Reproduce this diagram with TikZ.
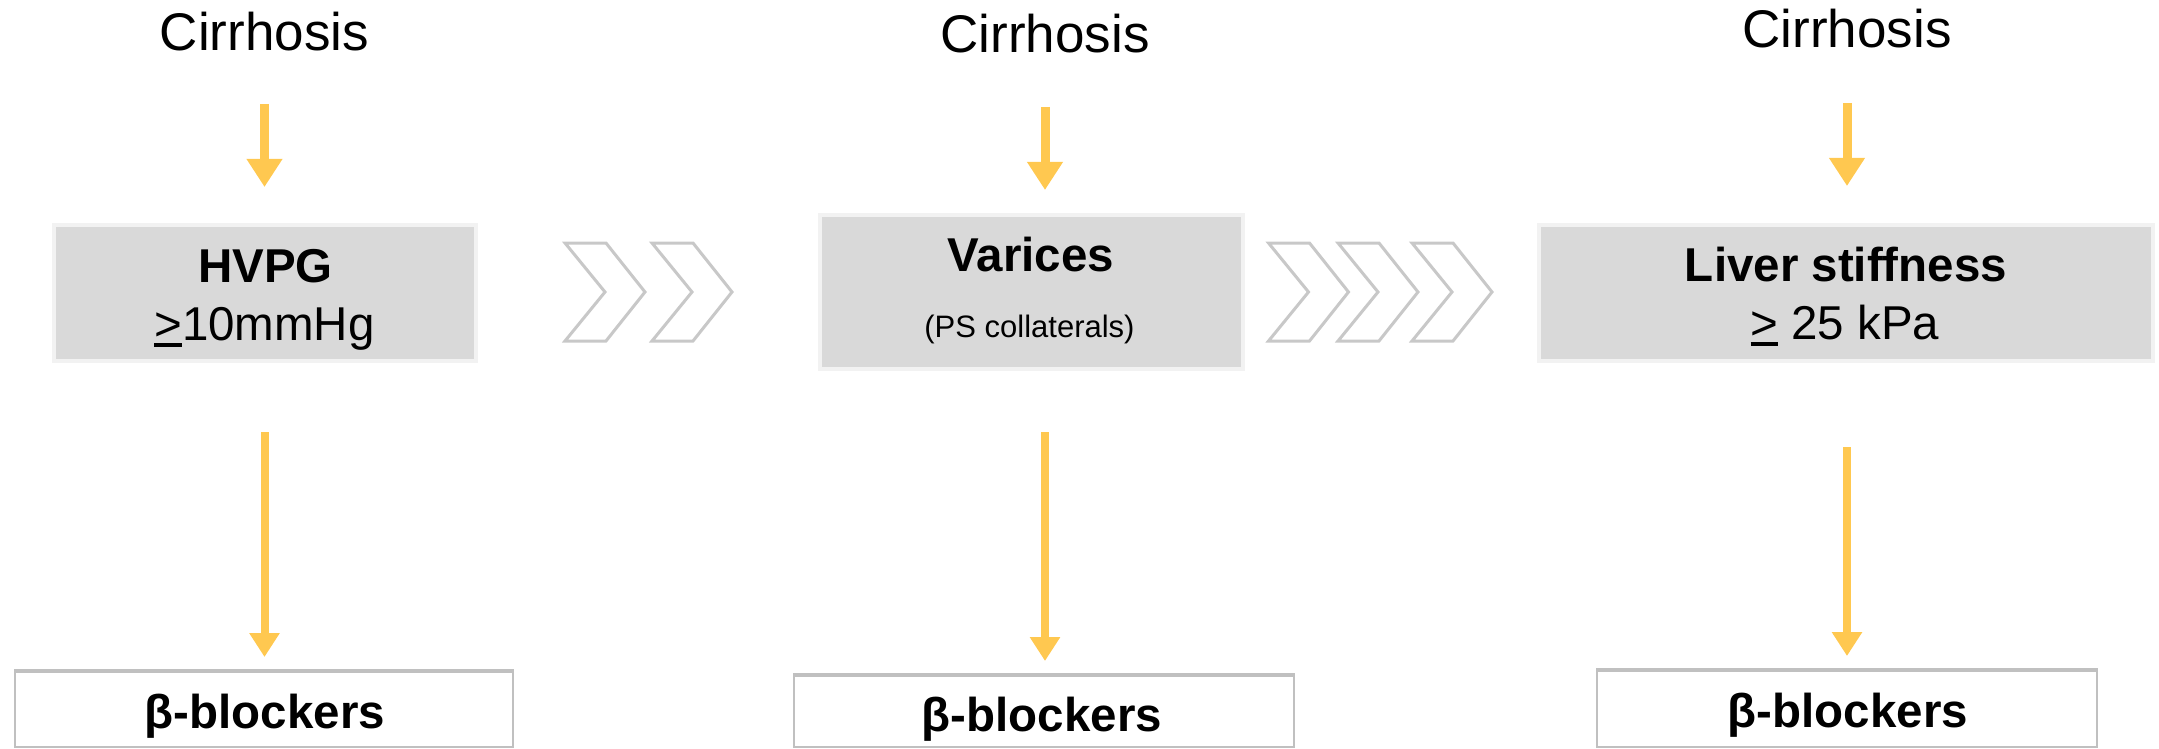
\documentclass[tikz,border=0pt]{standalone}
\usepackage{fontspec}
\setmainfont{Liberation Sans}
\usetikzlibrary{arrows.meta}
\definecolor{arrowyellow}{RGB}{255,200,80}
\definecolor{boxgray}{RGB}{217,217,217}
\definecolor{boxedge}{RGB}{242,242,242}
\definecolor{chevgray}{RGB}{200,200,200}
\definecolor{bbedge}{RGB}{192,192,192}
\newsavebox{\geubox}
\newcommand{\geu}[1]{\sbox{\geubox}{#1}\rlap{\rule[-0.14em]{\wd\geubox}{0.075em}}\usebox{\geubox}}
\begin{document}
\begin{tikzpicture}[x=0.5pt,y=-0.5pt,
 cirtxt/.style={font=\fontsize{26.5}{30}\selectfont, inner sep=0, anchor=base},
 bigtxt/.style={font=\fontsize{23.75}{28}\selectfont\bfseries, inner sep=0, anchor=base},
 midtxt/.style={font=\fontsize{23.75}{28}\selectfont, inner sep=0, anchor=base},
 smalltxt/.style={font=\fontsize{15.5}{18}\selectfont, inner sep=0, anchor=base},
 graybox/.style={draw=boxedge, line width=2pt, fill=boxgray, inner sep=0, outer sep=0},
 bbox/.style={draw=bbedge, line width=1.25pt, fill=white, inner sep=0, outer sep=0},
 bbtop/.style={draw=bbedge, line width=2pt},
 toparr/.style={color=arrowyellow, line width=4.5pt, -{Triangle[width=17pt,length=14pt]}},
 botarr/.style={color=arrowyellow, line width=4pt, -{Triangle[width=14.5pt,length=12pt]}},
 chevline/.style={draw=chevgray, line width=1.5pt, fill=white, line join=miter},
 chev/.pic={\path[chevline] (0,0) -- (41,0) -- (80,49) -- (41,98) -- (0,98) -- (40,49) -- cycle;}
]
\useasboundingbox (0,0) rectangle (2159,749);

% Cirrhosis labels
\node[cirtxt] (cir1) at (264.5,51) {Cirrhosis};
\node[cirtxt] (cir2) at (1045,53) {Cirrhosis};
\node[cirtxt] (cir3) at (1847,48) {Cirrhosis};

% gray boxes
\node[graybox, minimum width=211pt, minimum height=68pt] (box1) at (265,293) {};
\node[graybox, minimum width=211.5pt, minimum height=77pt] (box2) at (1031.5,292) {};
\node[graybox, minimum width=307pt, minimum height=68pt] (box3) at (1846,293) {};

\node[bigtxt] (hvpg) at (265.5,282) {HVPG};
\node[midtxt] (hvpgv) at (264.5,340) {\geu{>}10mmHg};
\node[bigtxt] (var) at (1031,271) {Varices};
\node[smalltxt] (ps) at (1029.5,337) {(PS collaterals)};
\node[bigtxt] (ls) at (1846,281) {Liver stiffness};
\node[midtxt] (lsv) at (1845,339) {\geu{>} 25 kPa};

% bottom boxes
\node[bbox, minimum width=249pt, minimum height=38.5pt] (bb1) at (264,708.5) {};
\node[bbox, minimum width=250pt, minimum height=36.5pt] (bb2) at (1044,710.5) {};
\node[bbox, minimum width=250pt, minimum height=39pt] (bb3) at (1847,708) {};
\draw[bbtop] ([yshift=-0.5pt]bb1.north west) -- ([yshift=-0.5pt]bb1.north east);
\draw[bbtop] ([yshift=-0.5pt]bb2.north west) -- ([yshift=-0.5pt]bb2.north east);
\draw[bbtop] ([yshift=-0.5pt]bb3.north west) -- ([yshift=-0.5pt]bb3.north east);
\node[bigtxt] (bt1) at (265,728) {β-blockers};
\node[bigtxt] (bt2) at (1042,731) {β-blockers};
\node[bigtxt] (bt3) at (1848,727) {β-blockers};

% arrows
\draw[toparr, shorten <=26pt, shorten >=19pt] (cir1.south) -- (cir1.south |- box1.north);
\draw[toparr, shorten <=26.5pt, shorten >=12.5pt] (cir2.south) -- (cir2.south |- box2.north);
\draw[toparr, shorten <=27pt, shorten >=19.5pt] (cir3.south) -- (cir3.south |- box3.north);
\draw[botarr, shorten <=35.5pt, shorten >=6.5pt] (cir1.south |- box1.south) -- (cir1.south |- bb1.north);
\draw[botarr, shorten <=31.5pt, shorten >=6.5pt] (cir2.south |- box2.south) -- (cir2.south |- bb2.north);
\draw[botarr, shorten <=43pt, shorten >=6.5pt] (cir3.south |- box3.south) -- (cir3.south |- bb3.north);

% chevrons
\pic at (565,243) {chev};
\pic at (652,243) {chev};
\pic at (1268.5,243) {chev};
\pic at (1338,243) {chev};
\pic at (1412,243) {chev};
\end{tikzpicture}
\end{document}
